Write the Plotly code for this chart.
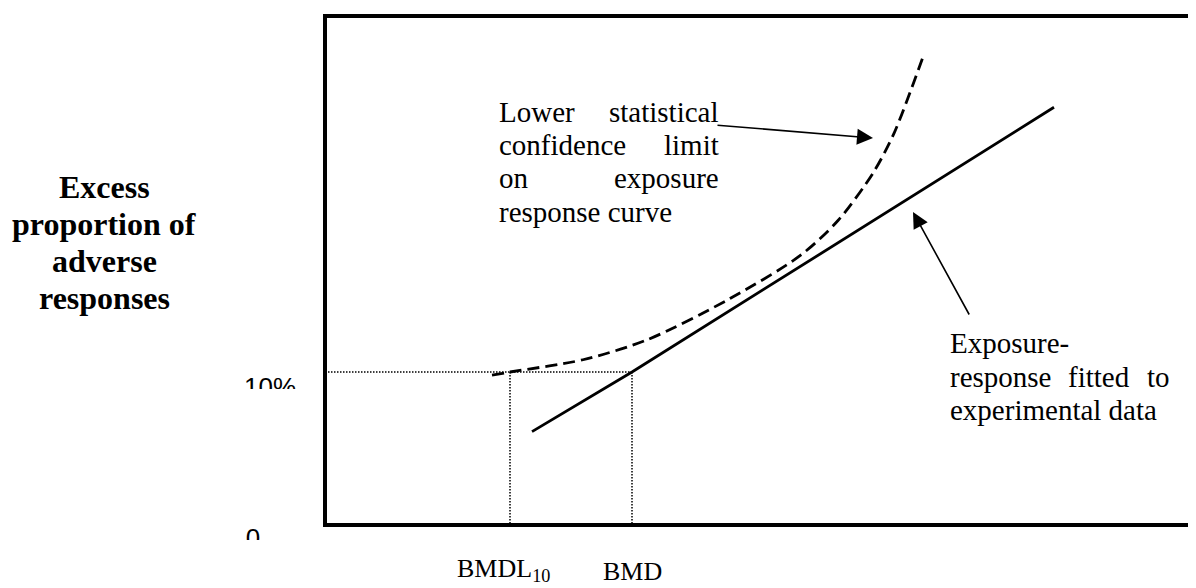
import plotly.graph_objects as go

# ---------------- data (dose in arbitrary units, response in %) ----------------
fit_dose = [4.14, 6.14, 14.58]
fit_resp = [6.1, 10.0, 27.3]

lcl_dose = [3.34, 3.70, 5.16, 6.44, 8.10, 9.50, 10.26, 10.96, 11.38, 11.96]
lcl_resp = [9.8, 10.0, 10.8, 12.1, 14.8, 17.6, 19.9, 23.0, 25.6, 30.6]

BMR = 10.0      # benchmark response (10 %)
BMDL = 3.70
BMD = 6.14

y_tick_labels = ["10%", "0"]
x_labels = ["BMDL<sub>10</sub>", "BMD"]

# ---------------- layout helpers ----------------
W, H = 1196, 588
OFF = 8                      # page body margin of the browser
FW, FH = W - OFF, H - OFF    # figure size so that it ends at the window edge
def px(x):
    return (x - OFF) / FW
def py(y):
    return 1 - (y - OFF) / FH

SERIF = "Liberation Serif"
SANS = "Liberation Sans"

fig = go.Figure()

# fitted exposure-response line
fig.add_trace(go.Scatter(x=fit_dose, y=fit_resp, mode="lines",
                         line=dict(color="black", width=2.8),
                         hoverinfo="skip", showlegend=False))
# lower confidence limit curve
fig.add_trace(go.Scatter(x=lcl_dose, y=lcl_resp, mode="lines",
                         line=dict(color="black", width=2.8, dash="12px,6px",
                                   shape="spline", smoothing=0.8),
                         hoverinfo="skip", showlegend=False))
# dotted guide lines
fig.add_trace(go.Scatter(x=[0, BMD, None, BMDL, BMDL, None, BMD, BMD],
                         y=[BMR, BMR, None, BMR, 0, None, BMR, 0],
                         mode="lines",
                         line=dict(color="black", width=1.5, dash="1.5px,1.5px"),
                         hoverinfo="skip", showlegend=False))

# clipped tick labels (drawn in small sub-plots that clip their lower half)
fig.add_trace(go.Scatter(x=[0.5], y=[0], mode="text", text=[y_tick_labels[0]],
                         textposition="middle center",
                         textfont=dict(family=SANS, size=26, color="black"),
                         cliponaxis=True, xaxis="x2", yaxis="y2",
                         hoverinfo="skip", showlegend=False))
fig.add_trace(go.Scatter(x=[0.5], y=[0], mode="text", text=[y_tick_labels[1]],
                         textposition="middle center",
                         textfont=dict(family=SANS, size=26, color="black"),
                         cliponaxis=True, xaxis="x3", yaxis="y3",
                         hoverinfo="skip", showlegend=False))

x_right = (W - 325) / 50.0
y_top = (525 - 16) / 15.3

fig.update_layout(
    width=FW, height=FH,
    margin=dict(l=0, r=0, t=0, b=0),
    paper_bgcolor="white", plot_bgcolor="white",
    xaxis=dict(domain=[px(325), 1.0], range=[0, x_right], visible=False),
    yaxis=dict(domain=[py(525), py(16)], range=[0, y_top], visible=False),
    xaxis2=dict(domain=[px(230), px(310)], range=[0, 1], visible=False, anchor="y2"),
    yaxis2=dict(domain=[py(389), py(350)], range=[0, 1], visible=False, anchor="x2"),
    xaxis3=dict(domain=[px(213), px(293)], range=[0, 1], visible=False, anchor="y3"),
    yaxis3=dict(domain=[py(540), py(500)], range=[0, 1], visible=False, anchor="x3"),
)

# frame (left, top, bottom)
fig.add_shape(type="line", xref="paper", yref="paper", x0=px(325), x1=px(325),
              y0=py(526.5), y1=py(14), line=dict(color="black", width=4))
fig.add_shape(type="line", xref="paper", yref="paper", x0=px(323), x1=1.0,
              y0=py(16), y1=py(16), line=dict(color="black", width=4))
fig.add_shape(type="line", xref="paper", yref="paper", x0=px(323), x1=1.0,
              y0=py(525), y1=py(525), line=dict(color="black", width=4))

def txt(text, x, ybase, anchor="left", size=29, bold=False):
    center = ybase - 0.34 * size
    fig.add_annotation(text=("<b>%s</b>" % text) if bold else text,
                       xref="paper", yref="paper", x=px(x), y=py(center),
                       xanchor=anchor, yanchor="middle", showarrow=False,
                       font=dict(family=SERIF, size=size, color="black"))

# y-axis title
for line, yb in zip(["Excess", "proportion of", "adverse", "responses"],
                    [198, 235, 272, 309]):
    txt(line, 104, yb, anchor="center", size=32, bold=True)

# justified text block 1
L1, R1 = 497, 721
txt("Lower", L1, 122); txt("statistical", R1, 122, "right")
txt("confidence", L1, 155); txt("limit", R1, 155, "right")
txt("on", L1, 188); txt("exposure", R1, 188, "right")
txt("response curve", L1, 222)

# justified text block 2
L2, R2 = 948, 1172
txt("Exposure-", L2, 353)
txt("response", L2, 387); txt("fitted", 1099, 387, "center"); txt("to", R2, 387, "right")
txt("experimental data", L2, 420)

# x labels (anchored to the bottom edge)
for lab, xc in zip(x_labels, [503, 632]):
    fig.add_annotation(text=lab, xref="paper", yref="paper", x=px(xc), y=0,
                       xanchor="center", yanchor="bottom", showarrow=False,
                       font=dict(family=SERIF, size=26, color="black"))

# arrows
fig.add_annotation(x=10.96, y=25.29, ax=7.82, ay=26.14, xref="x", yref="y",
                   axref="x", ayref="y", text="", showarrow=True, arrowhead=2,
                   arrowsize=2, arrowwidth=1.6, arrowcolor="black")
fig.add_annotation(x=11.76, y=20.46, ax=12.90, ay=13.66, xref="x", yref="y",
                   axref="x", ayref="y", text="", showarrow=True, arrowhead=2,
                   arrowsize=2, arrowwidth=1.6, arrowcolor="black")

fig.write_html("out.html")
